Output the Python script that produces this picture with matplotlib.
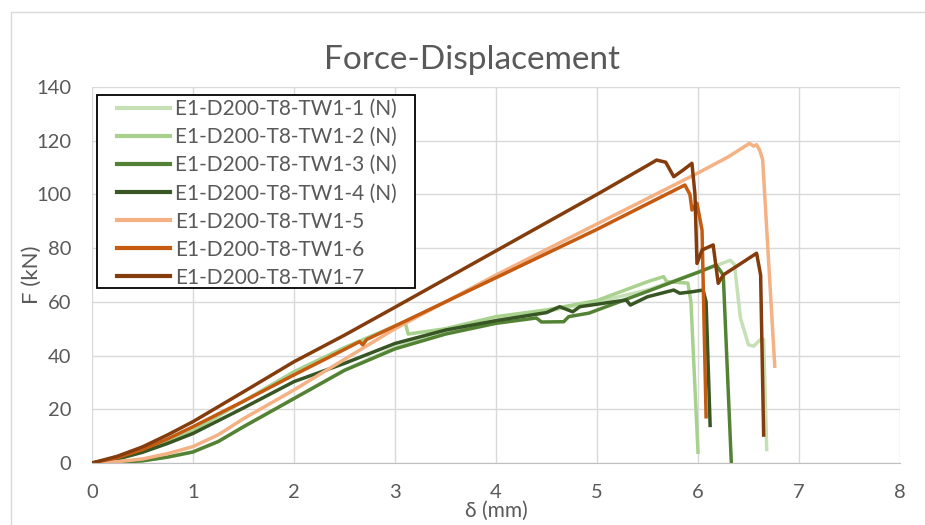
import matplotlib
matplotlib.use('Agg')
import matplotlib.pyplot as plt
from matplotlib.patches import Rectangle

plt.rcParams['font.family'] = ['Lato', 'DejaVu Sans']

# specimen names and colours
names = ['E1-D200-T8-TW1-1 (N)', 'E1-D200-T8-TW1-2 (N)', 'E1-D200-T8-TW1-3 (N)',
         'E1-D200-T8-TW1-4 (N)', 'E1-D200-T8-TW1-5', 'E1-D200-T8-TW1-6', 'E1-D200-T8-TW1-7']
colors = ['#c5e0b4', '#a9d18e', '#548235', '#375623', '#f4b183', '#c55a11', '#843c0c']

# displacement (mm) / force (kN)
d1 = [0, 0.25, 0.5, 0.75, 1, 1.25, 1.5, 2, 2.5, 3, 3.5, 4, 4.5, 5, 5.5, 6, 6.32, 6.36, 6.42,
      6.5, 6.55, 6.62, 6.65, 6.68]
f1 = [0, 0.2, 0.8, 2.2, 4.2, 8, 13.5, 24, 34.6, 43, 49, 53, 56.5, 60, 64.4, 71, 75.5, 74, 54,
      44, 43.5, 46, 46, 5]

d2 = [0, 0.25, 0.5, 0.75, 1, 1.5, 2, 2.5, 3, 3.1, 3.13, 3.5, 4, 4.5, 5, 5.5, 5.66, 5.69, 5.9, 5.93, 6.0]
f2 = [0, 1.5, 4, 8, 12, 23, 34, 43, 51, 52.5, 48, 50, 54.5, 57, 60.5, 67.5, 69.4, 67.5, 67, 60, 4]

d3 = [0, 0.25, 0.5, 0.75, 1, 1.25, 1.5, 2, 2.5, 3, 3.5, 4, 4.4, 4.45, 4.67, 4.72, 4.92, 5.5, 6, 6.18,
      6.25, 6.33]
f3 = [0, 0.2, 0.8, 2.2, 4.1, 8, 13.5, 24, 34.5, 42.5, 48, 52, 54, 52.5, 52.6, 54.5, 55.8, 63.9, 71, 73.7,
      70, 0]

d4 = [0, 0.25, 0.5, 0.75, 1, 1.5, 2, 2.5, 3, 3.5, 4, 4.5, 4.63, 4.76, 4.83, 5.29, 5.33, 5.5, 5.76,
      5.82, 5.95, 6.05, 6.08, 6.12]
f4 = [0, 1.5, 4, 7.3, 11, 20.5, 30.3, 37.1, 44.5, 49.5, 53, 56, 58.2, 56.3, 58.2, 60.7, 58.8, 61.9, 64.4,
      63.2, 63.8, 64.4, 60, 14]

d5 = [0, 0.25, 0.5, 0.75, 1, 1.25, 1.5, 2, 2.5, 3, 3.5, 4, 4.5, 5, 5.5, 6, 6.3, 6.51, 6.55, 6.58,
      6.61, 6.64, 6.76]
f5 = [0, 0.5, 1.5, 3.5, 6.1, 10.5, 16.5, 27.2, 38.6, 50, 60, 70, 79.5, 89, 98.5, 108, 114, 119, 118,
      118.5, 116.5, 113, 36]

d6 = [0, 0.25, 0.5, 0.75, 1, 1.5, 2, 2.5, 2.65, 2.68, 2.72, 3, 3.5, 4, 4.5, 5, 5.5, 5.87, 5.92, 5.94,
      5.99, 6.04, 6.08]
f6 = [0, 2, 5, 9, 13.5, 23, 32.8, 42.3, 45.2, 44, 46, 51, 60, 69, 78, 87, 96.5, 103.5, 100, 94.2,
      96.7, 86.7, 17.2]

d7 = [0, 0.25, 0.5, 0.75, 1, 1.5, 2, 2.5, 3, 3.5, 4, 4.5, 5, 5.5, 5.59, 5.68, 5.76, 5.85, 5.94, 5.97,
      5.99, 6.04, 6.15, 6.2, 6.25, 6.58, 6.62, 6.65]
f7 = [0, 2.5, 6, 10.5, 15.4, 26.5, 37.7, 47.6, 58, 68.5, 79, 89.5, 100, 110.8, 112.8, 112, 106.6, 109,
      111.6, 100, 74.3, 79.3, 81.2, 66.9, 70, 78.1, 70, 10.4]

xs = [d1, d2, d3, d4, d5, d6, d7]
ys = [f1, f2, f3, f4, f5, f6, f7]

fig = plt.figure(figsize=(9.25, 5.25), dpi=100)
ax = fig.add_axes([92 / 925, 1 - 463 / 525, 808 / 925, 376 / 525])

for x, y, c, n in zip(xs, ys, colors, names):
    ax.plot(x, y, color=c, linewidth=2.5, label=n, solid_joinstyle='round')

ax.set_xlim(0, 8)
ax.set_ylim(0, 140)
ax.set_xticks(range(0, 9))
ax.set_yticks(range(0, 141, 20))
ax.grid(True, color='#d9d9d9', linewidth=1)
ax.set_axisbelow(True)
for s in ['top', 'right', 'left']:
    ax.spines[s].set_visible(False)
ax.spines['bottom'].set_color('#bfbfbf')
ax.tick_params(length=0, labelsize=14.5, labelcolor='#595959')
ax.tick_params(axis='y', pad=15)
ax.tick_params(axis='x', pad=15)

ax.set_xlabel('δ (mm)', fontsize=15, color='#595959')
ax.xaxis.set_label_coords(0.5, -0.102)
ax.set_ylabel('F (kN)', fontsize=16, color='#595959')
ax.yaxis.set_label_coords(-0.062, 0.5)
fig.text(472 / 925, 1 - 60 / 525, 'Force-Displacement', fontsize=24, color='#595959',
         ha='center', va='center')

# legend box drawn separately to get Excel's wide side padding
ax.add_patch(Rectangle((5 / 808, 175 / 376), 318 / 808, 193 / 376, transform=ax.transAxes,
                       facecolor='white', edgecolor='black', linewidth=1.3, zorder=4.5))
leg = ax.legend(loc='upper left', bbox_to_anchor=(25 / 808, 364 / 376), fontsize=15, frameon=False,
                handlelength=2.55, labelspacing=0.39, borderpad=0, borderaxespad=0,
                handletextpad=0.25)
for t in leg.get_texts():
    t.set_color('#595959')
for h in leg.get_lines():
    h.set_linewidth(3)

# chart area border
fig.patches.append(Rectangle((11 / 925, -0.1), 1.2, 1 - 12 / 525 + 0.1, transform=fig.transFigure,
                             fill=False, edgecolor='#d9d9d9', linewidth=1))

fig.savefig('out.png', dpi=100)
